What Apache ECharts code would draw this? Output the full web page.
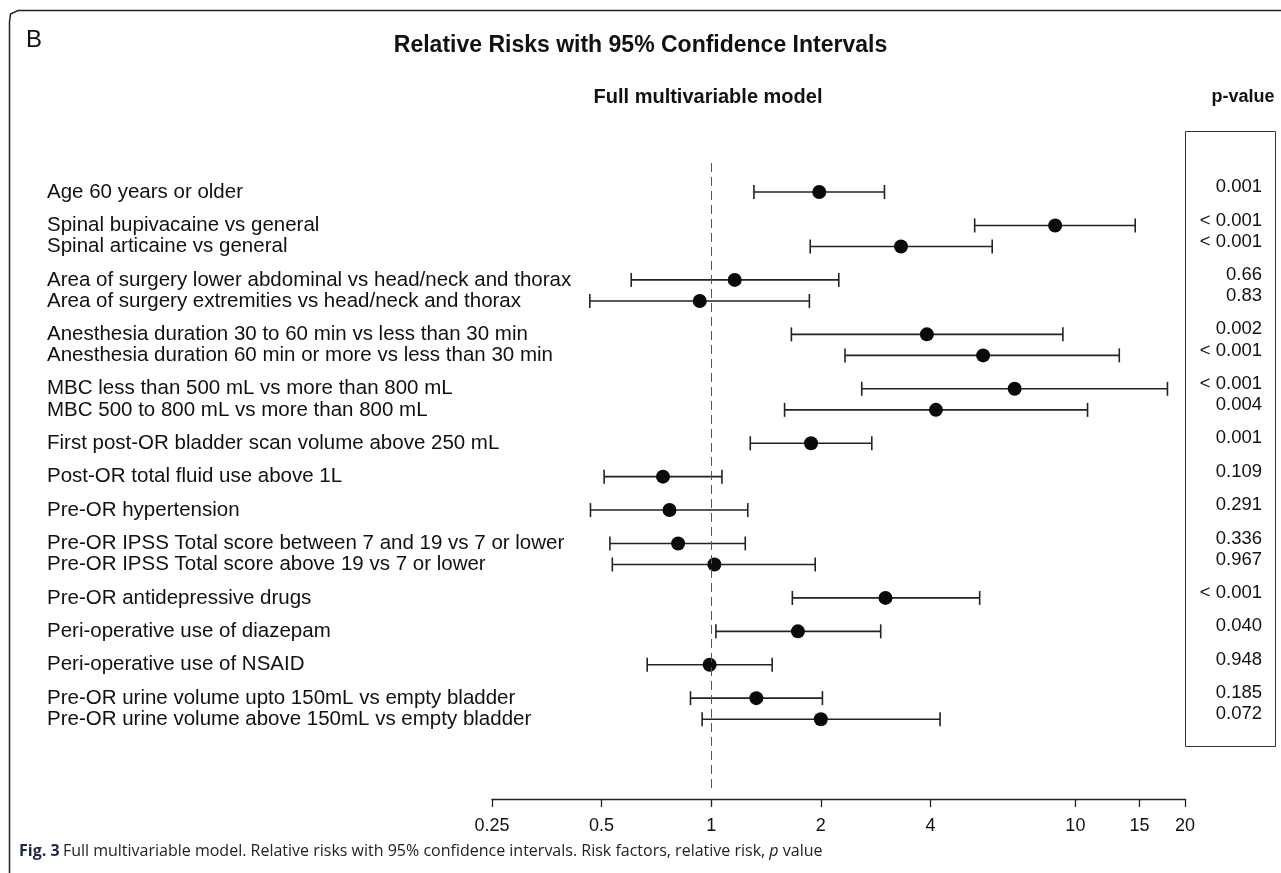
<!DOCTYPE html>
<html>
<head>
<meta charset="utf-8">
<script src="https://cdn.jsdelivr.net/npm/echarts@6/dist/echarts.min.js"></script>
<style>
  html, body { margin: 0; padding: 0; background: #fff; }
  #chart { width: 1281px; height: 873px; }
</style>
</head>
<body>
<div id="chart"></div>
<script>
// ---- data ----
const labels = [
  "Age 60 years or older",
  "Spinal bupivacaine vs general",
  "Spinal articaine vs general",
  "Area of surgery lower abdominal vs head/neck and thorax",
  "Area of surgery extremities vs head/neck and thorax",
  "Anesthesia duration 30 to 60 min vs less than 30 min",
  "Anesthesia duration 60 min or more vs less than 30 min",
  "MBC less than 500 mL vs more than 800 mL",
  "MBC 500 to 800 mL vs more than 800 mL",
  "First post-OR bladder scan volume above 250 mL",
  "Post-OR total fluid use above 1L",
  "Pre-OR hypertension",
  "Pre-OR IPSS Total score between 7 and 19 vs 7 or lower",
  "Pre-OR IPSS Total score above 19 vs 7 or lower",
  "Pre-OR antidepressive drugs",
  "Peri-operative use of diazepam",
  "Peri-operative use of NSAID",
  "Pre-OR urine volume upto 150mL vs empty bladder",
  "Pre-OR urine volume above 150mL vs empty bladder"
];
const groupIds   = [0, 1, 1, 2, 2, 3, 3, 4, 4, 5, 6, 7, 8, 8, 9, 10, 11, 12, 12];
const relRisk    = [1.98, 8.80, 3.32, 1.16, 0.93, 3.91, 5.58, 6.81, 4.14, 1.88, 0.737, 0.768, 0.811, 1.02, 3.01, 1.73, 0.99, 1.33, 2.00];
const ciLower    = [1.31, 5.29, 1.87, 0.603, 0.464, 1.66, 2.33, 2.59, 1.59, 1.28, 0.508, 0.466, 0.527, 0.535, 1.67, 1.03, 0.667, 0.877, 0.944];
const ciUpper    = [2.99, 14.6, 5.91, 2.24, 1.86, 9.24, 13.2, 17.9, 10.8, 2.76, 1.07, 1.26, 1.24, 1.93, 5.46, 2.92, 1.47, 2.02, 4.25];
const pValues    = ["0.001", "< 0.001", "< 0.001", "0.66", "0.83", "0.002", "< 0.001", "< 0.001", "0.004", "0.001", "0.109", "0.291", "0.336", "0.967", "< 0.001", "0.040", "0.948", "0.185", "0.072"];
const tickValues = [0.25, 0.5, 1, 2, 4, 10, 15, 20];

// ---- row positions derived from group structure ----
const SUB_STEP = 0.63;
const rowPos = [];
{
  let extra = 0;
  for (let i = 0; i < groupIds.length; i++) {
    if (i > 0 && groupIds[i] === groupIds[i - 1]) extra++;
    rowPos.push(groupIds[i] + SUB_STEP * extra);
  }
}

const ciData = labels.map((l, i) => [ciLower[i], ciUpper[i], rowPos[i], relRisk[i]]);
const pointData = labels.map((l, i) => [relRisk[i], rowPos[i]]);
const textData = labels.map((l, i) => [1, rowPos[i]]);

const FONT = "Liberation Sans, Arial, sans-serif";

const chart = echarts.init(document.getElementById('chart'), null, { renderer: 'canvas' });
chart.setOption({
  backgroundColor: '#fff',
  animation: false,
  grid: { left: 492, right: 96, top: 163, bottom: 83, containLabel: false },
  xAxis: {
    type: 'log', logBase: 2, min: 0.25, max: 20,
    offset: 9,
    axisLine: { show: true, onZero: false, lineStyle: { color: '#222', width: 1.3 } },
    axisTick: { show: true, length: 8, lineStyle: { color: '#222', width: 1.3 }, customValues: tickValues },
    axisLabel: { show: true, margin: 18, color: '#111', fontSize: 18, fontFamily: FONT, customValues: tickValues,
      formatter: v => String(+(+v).toPrecision(6)) },
    splitLine: { show: false },
    minorTick: { show: false }
  },
  yAxis: {
    type: 'value', inverse: true, min: -0.87, max: 17.9,
    show: false
  },
  graphic: [
    { type: 'text', left: 26, top: 28, style: { text: 'B', font: '24px ' + FONT, fill: '#111' } },
    { type: 'text', left: 'center', top: 34, style: { text: 'Relative Risks with 95% Confidence Intervals', font: 'bold 23px ' + FONT, fill: '#111' } },
    { type: 'text', x: 708, y: 97, style: { text: 'Full multivariable model', font: 'bold 20px ' + FONT, fill: '#111', align: 'center', verticalAlign: 'middle' } },
    { type: 'text', x: 1243, y: 97, style: { text: 'p-value', font: 'bold 18px ' + FONT, fill: '#111', align: 'center', verticalAlign: 'middle' } },
    { type: 'rect', shape: { x: 1185.5, y: 131.5, width: 90, height: 615 }, style: { fill: 'none', stroke: '#333', lineWidth: 1 } },
    { type: 'polyline', shape: { points: [[9.5, 873], [9.5, 22], [10.5, 14], [18, 10.5], [1281, 10.5]] }, style: { fill: 'none', stroke: '#222', lineWidth: 1.5 } },
    { type: 'text', left: 19, top: 843, style: {
        rich: {
          b: { font: 'bold 16px "Open Sans", sans-serif', fill: '#1c2a44' },
          r: { font: '16px "Open Sans", sans-serif', fill: '#222' },
          i: { font: 'italic 16px "Open Sans", sans-serif', fill: '#222' }
        },
        text: '{b|Fig. 3} {r|Full multivariable model. Relative risks with 95% confidence intervals. Risk factors, relative risk, }{i|p}{r| value}'
      } }
  ],
  series: [
    {
      type: 'custom',
      name: 'ci',
      coordinateSystem: 'cartesian2d',
      data: ciData,
      encode: { x: [0, 1], y: 2 },
      renderItem: function (params, api) {
        const p1 = api.coord([api.value(0), api.value(2)]);
        const p2 = api.coord([api.value(1), api.value(2)]);
        const h = 7;
        const st = { stroke: '#222', lineWidth: 1.6 };
        return {
          type: 'group',
          children: [
            { type: 'line', shape: { x1: p1[0], y1: p1[1], x2: p2[0], y2: p2[1] }, style: st },
            { type: 'line', shape: { x1: p1[0], y1: p1[1] - h, x2: p1[0], y2: p1[1] + h }, style: st },
            { type: 'line', shape: { x1: p2[0], y1: p2[1] - h, x2: p2[0], y2: p2[1] + h }, style: st }
          ]
        };
      },
      z: 2
    },
    {
      type: 'scatter',
      name: 'rr',
      data: pointData,
      symbol: 'circle',
      symbolSize: 14,
      itemStyle: { color: '#0a0a0a', opacity: 1 },
      z: 3,
      markLine: {
        silent: true,
        symbol: ['none', 'none'],
        label: { show: false },
        lineStyle: { color: '#555', type: [9, 5], width: 1 },
        data: [{ xAxis: 1 }]
      }
    },
    {
      type: 'custom',
      name: 'texts',
      coordinateSystem: 'cartesian2d',
      data: textData,
      encode: { x: 0, y: 1 },
      renderItem: function (params, api) {
        const p = api.coord([api.value(0), api.value(1)]);
        const lab = labels[params.dataIndex];
        const pv = pValues[params.dataIndex];
        return {
          type: 'group',
          children: [
            { type: 'text', style: { x: 47, y: p[1], text: lab, font: '20.5px ' + FONT, fill: '#111', align: 'left', verticalAlign: 'middle' } },
            { type: 'text', style: { x: 1262, y: p[1] - 5, text: pv, font: '18.5px ' + FONT, fill: '#111', align: 'right', verticalAlign: 'middle' } }
          ]
        };
      },
      z: 4
    }
  ]
});
</script>
</body>
</html>
